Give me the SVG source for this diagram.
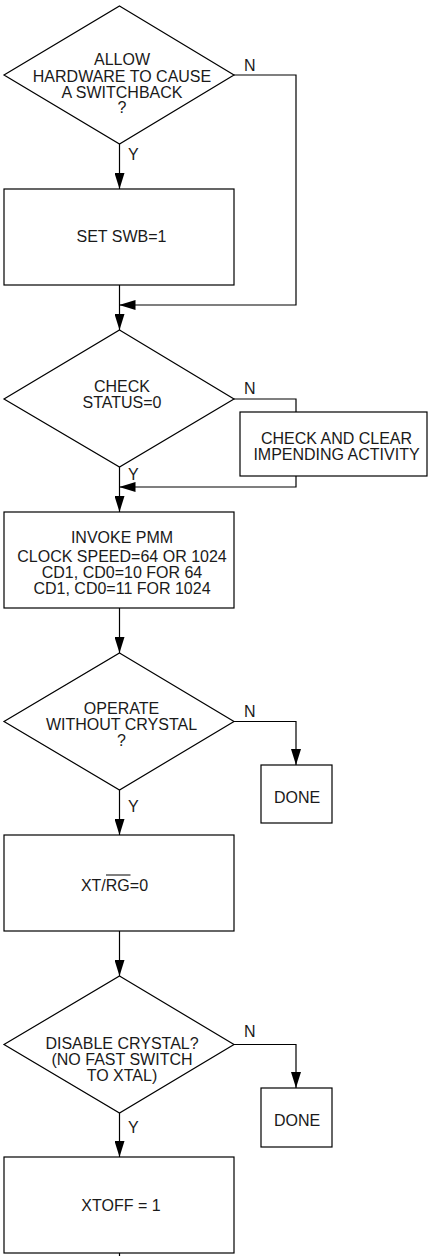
<svg xmlns="http://www.w3.org/2000/svg" width="428" height="1256" viewBox="0 0 428 1256">
<style>
.s{fill:#fff;stroke:#000;stroke-width:1.2}
.c{fill:none;stroke:#000;stroke-width:1.2}
text{font-family:"Liberation Sans",Arial,sans-serif;font-size:16px;fill:#1a1a1a}
.m{text-anchor:middle}
</style>
<defs>
<marker id="ah" markerUnits="userSpaceOnUse" markerWidth="16" markerHeight="10" refX="16" refY="5" orient="auto">
<path d="M0,0 L16,5 L0,10 z" fill="#000"/>
</marker>
</defs>
<rect width="428" height="1256" fill="#fff"/>
<g id="connectors">
<path class="c" d="M119.5,144 V189" marker-end="url(#ah)"/>
<path class="c" d="M234,75 H296 V305 H119.5" marker-end="url(#ah)"/>
<path class="c" d="M119.5,285 V330" marker-end="url(#ah)"/>
<path class="c" d="M234,399 H296 V412"/>
<path class="c" d="M296,476 V487 H119.5" marker-end="url(#ah)"/>
<path class="c" d="M119.5,467 V512" marker-end="url(#ah)"/>
<path class="c" d="M119.5,608 V653" marker-end="url(#ah)"/>
<path class="c" d="M234,721.5 H296 V765" marker-end="url(#ah)"/>
<path class="c" d="M119.5,790 V835" marker-end="url(#ah)"/>
<path class="c" d="M119.5,931 V976" marker-end="url(#ah)"/>
<path class="c" d="M234,1044.5 H296 V1088" marker-end="url(#ah)"/>
<path class="c" d="M119.5,1113 V1157" marker-end="url(#ah)"/>
<path class="c" d="M119.5,1253 V1256"/>
<text x="244" y="71">N</text>
<text x="128" y="160">Y</text>
<text x="244" y="394">N</text>
<text x="128" y="480">Y</text>
<text x="244" y="717">N</text>
<text x="128" y="812">Y</text>
<text x="244" y="1037">N</text>
<text x="128" y="1133">Y</text>
</g>
<g id="d1">
<polygon class="s" points="119.5,6 234,75 119.5,144 4,75"/>
<text class="m" x="122" y="65">ALLOW</text>
<text class="m" x="122" y="82">HARDWARE TO CAUSE</text>
<text class="m" x="122" y="98">A SWITCHBACK</text>
<text class="m" x="122" y="113">?</text>
</g>
<g id="b1">
<rect class="s" x="4" y="189" width="230" height="96"/>
<text class="m" x="121.5" y="242">SET SWB=1</text>
</g>
<g id="d2">
<polygon class="s" points="119.5,330 234,399 119.5,467 4,399"/>
<text class="m" x="122" y="392">CHECK</text>
<text class="m" x="122" y="408">STATUS=0</text>
</g>
<g id="b2">
<rect class="s" x="240" y="412" width="187" height="64"/>
<text class="m" x="336.5" y="444">CHECK AND CLEAR</text>
<text class="m" x="336.5" y="460">IMPENDING ACTIVITY</text>
</g>
<g id="b3">
<rect class="s" x="4" y="512" width="230" height="96"/>
<text class="m" x="122" y="543">INVOKE PMM</text>
<text class="m" x="122" y="562">CLOCK SPEED=64 OR 1024</text>
<text class="m" x="122" y="578">CD1, CD0=10 FOR 64</text>
<text class="m" x="122" y="594">CD1, CD0=11 FOR 1024</text>
</g>
<g id="d3">
<polygon class="s" points="119.5,653 234,721.5 119.5,790 4,721.5"/>
<text class="m" x="121.5" y="714">OPERATE</text>
<text class="m" x="121.5" y="730">WITHOUT CRYSTAL</text>
<text class="m" x="121.5" y="746">?</text>
</g>
<g id="done1">
<rect class="s" x="261" y="765" width="71" height="58"/>
<text class="m" x="297" y="803">DONE</text>
</g>
<g id="b4">
<rect class="s" x="4" y="835" width="230" height="96"/>
<text class="m" x="114.5" y="891">XT/RG=0</text>
<line x1="106" y1="875" x2="130.5" y2="875" stroke="#000" stroke-width="1"/>
</g>
<g id="d4">
<polygon class="s" points="119.5,976 234,1044.5 119.5,1113 4,1044.5"/>
<text class="m" x="122" y="1049">DISABLE CRYSTAL?</text>
<text class="m" x="122" y="1065">(NO FAST SWITCH</text>
<text class="m" x="122" y="1081">TO XTAL)</text>
</g>
<g id="done2">
<rect class="s" x="261" y="1088" width="71" height="59"/>
<text class="m" x="297" y="1126">DONE</text>
</g>
<g id="b5">
<rect class="s" x="4" y="1157" width="230" height="96"/>
<text class="m" x="121" y="1211">XTOFF = 1</text>
</g>
</svg>
